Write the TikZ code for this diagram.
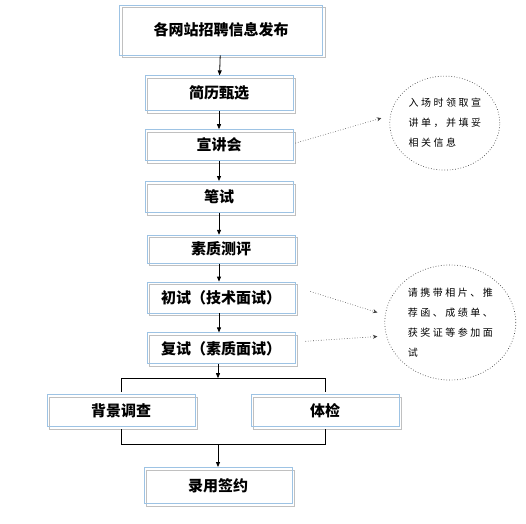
\documentclass[tikz,border=0pt]{standalone}
\usepackage{fontspec}
\setmainfont{Noto Sans CJK SC}
\newfontfamily\cjknote[LetterSpace=25]{Noto Sans CJK SC}
\usetikzlibrary{arrows.meta,positioning,shapes.geometric,shadows,calc}
\usepackage{xcolor}
\definecolor{boxblue}{RGB}{157,195,228}
\definecolor{boxgrey}{RGB}{192,192,192}

\begin{document}
\begin{tikzpicture}[
    x=1pt, y=-1pt,
    node distance=20pt,
    box/.style={draw=boxblue, line width=0.8pt, minimum width=148pt, minimum height=31pt, inner sep=0pt,
        font=\fontsize{15}{18}\selectfont\bfseries,
        general shadow={draw=boxgrey, line width=0.8pt, shadow xshift=2.5pt, shadow yshift=-2.5pt}},
    note/.style={draw=black!70, dotted, line width=0.7pt, ellipse, inner sep=0pt, align=left,
        font=\cjknote\fontsize{10}{20}\selectfont},
    rel/.style={-{Triangle[length=5pt,width=4pt]}, line width=0.8pt},
    link/.style={line width=0.8pt},
    hint/.style={dotted, line width=0.6pt, draw=black!75, -{Stealth[length=4.5pt,width=4pt]}}
]
\path[use as bounding box, fill=white] (0,0) rectangle (526,523);

% main column
\node[box, minimum width=203pt, minimum height=50pt] (pub) at (221,30) {各网站招聘信息发布};
\node[box, minimum height=35pt, below=20pt of pub, xshift=-2pt] (jl) {简历甄选};
\node[box, below=18pt of jl] (xjh) {宣讲会};
\node[box, below=20pt of xjh] (bs) {笔试};
\node[box, minimum height=28pt, below=22pt of bs, xshift=2pt] (sz) {素质测评};
\node[box, below=18pt of sz] (cs) {初试（技术面试）};
\node[box, below=19pt of cs] (fs) {复试（素质面试）};

% branch
\coordinate (split) at ($(fs.south)+(-3,14)$);
\node[box, minimum height=32pt, below=30pt of fs, xshift=-100pt] (bg) {背景调查};
\node[box, minimum height=32pt, below=30pt of fs, xshift=104pt] (tj) {体检};
\coordinate (merge) at ($(bg.south -| split)+(0,17)$);
\node[box, minimum height=36pt, below=23pt of merge] (sign) {录用签约};

% notes
\node[note, minimum width=110pt, minimum height=94pt, right=96pt of xjh, yshift=22pt] (n1)
    {入场时领取宣\\讲单，并填妥\\相关信息};
\node[note, minimum width=131pt, minimum height=115pt, right=89pt of cs, yshift=-25pt] (n2)
    {请携带相片、推\\荐函、成绩单、\\获奖证等参加面\\试};

% connectors
\draw[rel] (pub) -- (jl);
\draw[rel] (jl) -- (xjh);
\draw[rel] (xjh) -- (bs);
\draw[rel] (bs.south) -- (bs.south |- sz.north);
\draw[rel] (sz.south -| bs.south) -- (bs.south |- cs.north);
\draw[rel] (cs.south -| bs.south) -- (bs.south |- fs.north);
\draw[rel] (fs.south -| split) -- (split);
\draw[link] ($(bg.north)+(0,-2)$) |- (split) -| ($(tj.north)+(0,-2)$);
\draw[link] ($(bg.south)+(0,2)$) |- (merge) -| ($(tj.south)+(0,2)$);
\draw[rel] (merge) -- (sign);

\draw[hint] ($(xjh.east)+(2,-2)$) -- ($(n1.west)+(-8,-5)$);
\draw[hint] ($(cs.east)+(15,-6)$) -- ($(n2.west)+(-7,-10)$);
\draw[hint] ($(fs.east)+(10,-7)$) -- ($(n2.west)+(-7,14)$);
\end{tikzpicture}
\end{document}
